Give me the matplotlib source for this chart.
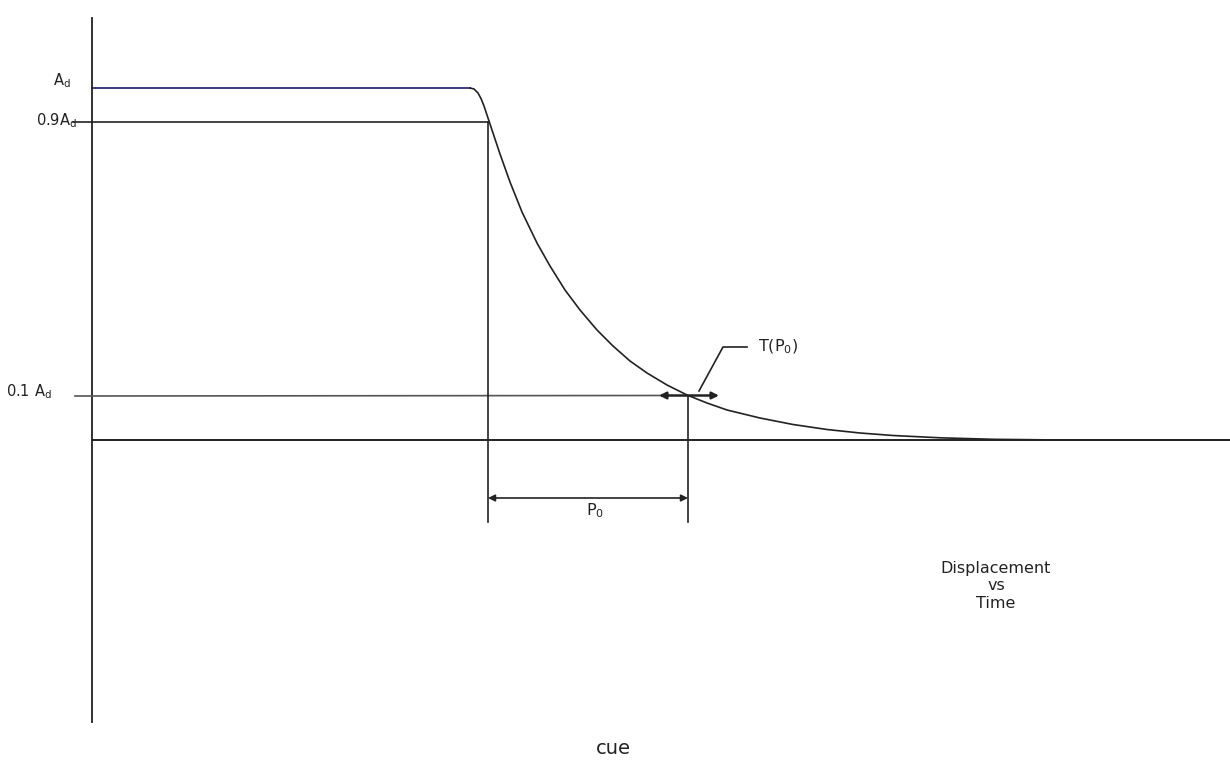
import matplotlib.pyplot as plt

# curve (pixel coords, y downwards)
curve_x = [470, 474, 478, 481, 484, 487, 492, 500, 510, 522, 537, 550, 565, 580, 597, 613, 630, 647, 667, 687, 707, 727, 760, 793, 827, 860, 893, 940, 993, 1060, 1230]
curve_y = [88, 89, 93, 98.5, 106, 115, 130, 154, 182, 212, 243, 266, 290, 310, 330, 346, 361, 373, 385, 395, 403, 410, 418, 424.5, 429.5, 433, 435.5, 437.8, 439.3, 440, 440]

# levels on the y axis
y_ad = 88
y_09 = 122
y_01 = 395.5
y_base = 440
x_axis = 92
x_t09 = 488   # time at 0.9 Ad
x_t01 = 688   # time at 0.1 Ad

dark = '#222222'
plt.rcParams['font.family'] = ['DejaVu Sans']

fig = plt.figure(figsize=(12.3, 7.6), dpi=100)
ax = fig.add_axes([0, 0, 1, 1])
ax.set_xlim(0, 1230)
ax.set_ylim(760, 0)
ax.axis('off')

# axes
ax.plot([x_axis, x_axis], [18, 722], color=dark, lw=1.3)
ax.plot([x_axis, 1230], [y_base, y_base], color=dark, lw=1.4)

# levels
ax.plot([x_axis, curve_x[0]], [y_ad, y_ad], color='#1c1c6a', lw=1.2)
ax.plot([73, x_t09], [y_09, y_09], color=dark, lw=1.2)
ax.plot([75, 662], [y_01 + 0.5, y_01], color='#555555', lw=1.2)

# decay curve
ax.plot(curve_x, curve_y, color=dark, lw=1.2, solid_joinstyle='round')

# verticals
ax.plot([x_t09, x_t09], [y_09, 522], color=dark, lw=1.2)
ax.plot([x_t01, x_t01], [y_01, 522], color=dark, lw=1.2)

# arrows
ax.annotate('', xy=(x_t09, 498), xytext=(x_t01, 498),
            arrowprops=dict(arrowstyle='<|-|>', color=dark, lw=1.2,
                            mutation_scale=10, shrinkA=0, shrinkB=0))
ax.annotate('', xy=(659, y_01), xytext=(719, y_01),
            arrowprops=dict(arrowstyle='<|-|>', color=dark, lw=1.8,
                            mutation_scale=10, shrinkA=0, shrinkB=0))

# leader for T(P0)
ax.plot([699, 723, 747], [391, 347, 347], color=dark, lw=1.2)

# labels
fs = 10.5
ax.text(62, 81, '$\\mathregular{A_d}$', ha='center', va='center', fontsize=fs, color=dark)
ax.text(77, 121, '$\\mathregular{0.9A_d}$', ha='right', va='center', fontsize=fs, color=dark)
ax.text(6, 392, '$\\mathregular{0.1\\ A_d}$', ha='left', va='center', fontsize=fs, color=dark)
ax.text(758, 347, '$\\mathregular{T(P_0)}$', ha='left', va='center', fontsize=11.5, color=dark)
ax.text(586, 511, '$\\mathregular{P_0}$', ha='left', va='center', fontsize=11.5, color=dark)
ax.text(996, 586, 'Displacement\nvs\nTime', ha='center', va='center',
        fontsize=11.5, color=dark, linespacing=1.2)
ax.text(613, 748, 'cue', ha='center', va='center', fontsize=14, color=dark)

fig.savefig('out.png', dpi=100)
